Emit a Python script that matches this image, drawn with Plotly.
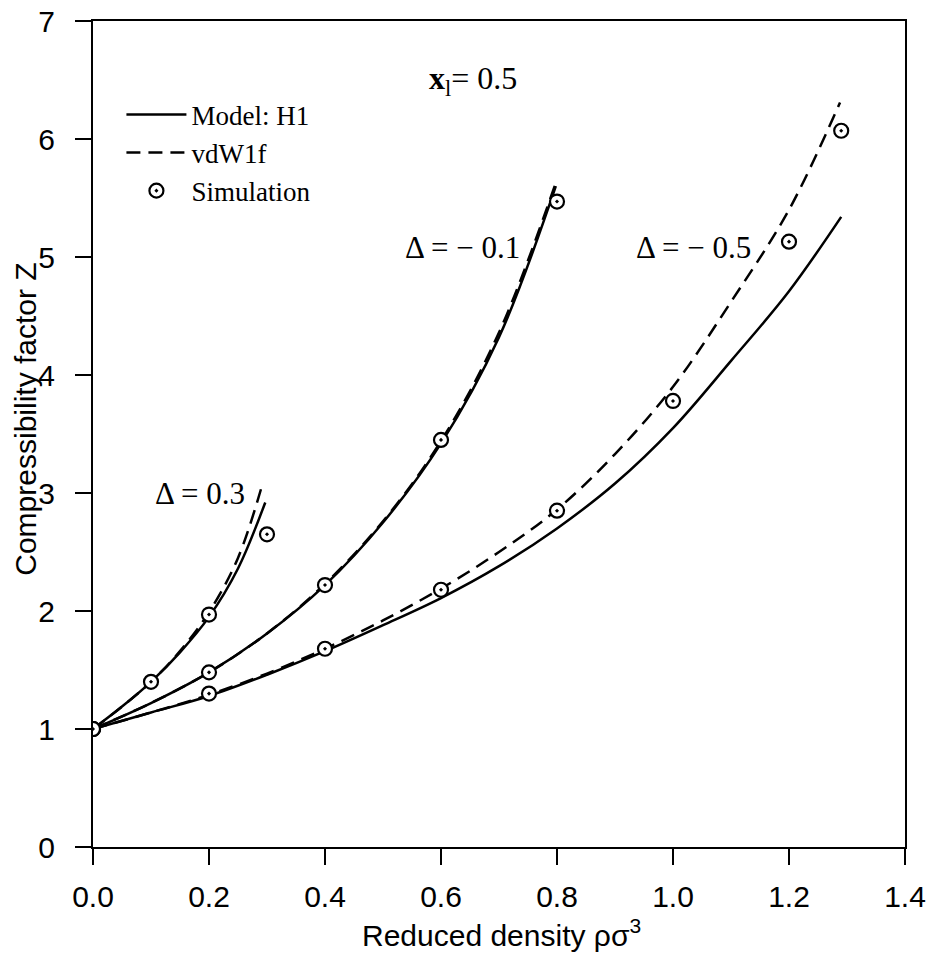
import plotly.graph_objects as go

# Simulation data, x1 = 0.5
sim_rho_p03 = [0.0, 0.1, 0.2, 0.3]
sim_z_p03 = [1.0, 1.40, 1.97, 2.65]
sim_rho_m01 = [0.0, 0.2, 0.4, 0.6, 0.8]
sim_z_m01 = [1.0, 1.48, 2.22, 3.45, 5.47]
sim_rho_m05 = [0.0, 0.2, 0.4, 0.6, 0.8, 1.0, 1.2, 1.29]
sim_z_m05 = [1.0, 1.30, 1.68, 2.18, 2.85, 3.78, 5.13, 6.07]

# Model H1 (solid) and vdW1f (dashed) curves
h1_rho_p03 = [0.0, 0.05, 0.1, 0.15, 0.2, 0.25, 0.297]
h1_z_p03 = [1.0, 1.19, 1.40, 1.65, 1.95, 2.36, 2.92]
vdw_rho_p03 = [0.0, 0.05, 0.1, 0.15, 0.2, 0.25, 0.293]
vdw_z_p03 = [1.0, 1.19, 1.40, 1.66, 1.99, 2.45, 3.09]

h1_rho_m01 = [0.0, 0.1, 0.2, 0.3, 0.4, 0.5, 0.6, 0.7, 0.798]
h1_z_m01 = [1.0, 1.22, 1.48, 1.81, 2.22, 2.75, 3.42, 4.32, 5.60]
vdw_rho_m01 = [0.0, 0.1, 0.2, 0.3, 0.4, 0.5, 0.6, 0.7, 0.798]
vdw_z_m01 = [1.0, 1.22, 1.48, 1.81, 2.23, 2.76, 3.44, 4.36, 5.63]

h1_rho_m05 = [0.0, 0.1, 0.2, 0.3, 0.4, 0.5, 0.6, 0.7, 0.8, 0.9, 1.0, 1.1, 1.2, 1.29]
h1_z_m05 = [1.0, 1.14, 1.28, 1.46, 1.66, 1.88, 2.11, 2.38, 2.70, 3.08, 3.55, 4.12, 4.71, 5.34]
vdw_rho_m05 = [0.0, 0.1, 0.2, 0.3, 0.4, 0.5, 0.6, 0.7, 0.8, 0.9, 1.0, 1.1, 1.2, 1.288]
vdw_z_m05 = [1.0, 1.14, 1.29, 1.47, 1.68, 1.92, 2.19, 2.50, 2.86, 3.33, 3.90, 4.62, 5.40, 6.31]

x_ticks = [0.0, 0.2, 0.4, 0.6, 0.8, 1.0, 1.2, 1.4]
x_tick_text = ["0.0", "0.2", "0.4", "0.6", "0.8", "1.0", "1.2", "1.4"]
y_ticks = [0, 1, 2, 3, 4, 5, 6, 7]

SERIF = "Liberation Serif, Times New Roman, serif"
SANS = "Liberation Sans, Arial, sans-serif"
LW = 2.5
DASH = "14px,8px"

fig = go.Figure()

curves = [
    (h1_rho_p03, h1_z_p03, vdw_rho_p03, vdw_z_p03),
    (h1_rho_m01, h1_z_m01, vdw_rho_m01, vdw_z_m01),
    (h1_rho_m05, h1_z_m05, vdw_rho_m05, vdw_z_m05),
]
for i, (hx, hy, vx, vy) in enumerate(curves):
    fig.add_trace(go.Scatter(
        x=hx, y=hy, mode="lines", name="Model: H1",
        line=dict(color="black", width=LW, shape="spline"),
        legendgroup="h1", showlegend=(i == 0), legendrank=1))
    fig.add_trace(go.Scatter(
        x=vx, y=vy, mode="lines", name="vdW1f",
        line=dict(color="black", width=LW, dash=DASH, shape="spline"),
        legendgroup="vdw", showlegend=(i == 0), legendrank=2))

sims = [(sim_rho_p03, sim_z_p03), (sim_rho_m01, sim_z_m01), (sim_rho_m05, sim_z_m05)]
for i, (sx, sy) in enumerate(sims):
    fig.add_trace(go.Scatter(
        x=sx, y=sy, mode="markers", name="Simulation",
        marker=dict(symbol="circle-dot", size=14, color="white",
                    line=dict(color="black", width=2.2)),
        legendgroup="sim", showlegend=(i == 0), legendrank=3))

annotations = [
    dict(x=0.655, y=6.5, text="<b>x</b><sub>l</sub>= 0.5", font=dict(family=SERIF, size=32, color="black")),
    dict(x=0.185, y=3.0, text="\u0394 = 0.3", font=dict(family=SERIF, size=31, color="black")),
    dict(x=0.637, y=5.08, text="\u0394 = \u2212 0.1", font=dict(family=SERIF, size=31, color="black")),
    dict(x=1.035, y=5.08, text="\u0394 = \u2212 0.5", font=dict(family=SERIF, size=31, color="black")),
]
for a in annotations:
    fig.add_annotation(xref="x", yref="y", showarrow=False, **a)

# axis titles
fig.add_annotation(xref="paper", yref="paper", x=0.503, y=-0.104, showarrow=False,
                   text="Reduced density \u03c1\u03c3<sup>3</sup>",
                   font=dict(family=SANS, size=30, color="black"), yanchor="middle")
fig.add_annotation(xref="paper", yref="paper", x=-0.083, y=0.518, showarrow=False,
                   text="Compressibility factor Z", textangle=-90,
                   font=dict(family=SANS, size=30, color="black"),
                   xanchor="center", yanchor="middle")

axis_common = dict(
    showgrid=False, zeroline=False, showline=True, linecolor="black", linewidth=2.2,
    mirror=True, ticks="outside", ticklen=16, tickwidth=2, tickcolor="black",
    tickfont=dict(family=SANS, size=30, color="black"),
)
fig.update_xaxes(range=[0, 1.4], tickvals=x_ticks, ticktext=x_tick_text,
                 ticklabelstandoff=6, **axis_common)
fig.update_yaxes(range=[0, 7], tickvals=y_ticks, ticklabelstandoff=14, **axis_common)

fig.update_layout(
    width=933, height=978,
    margin=dict(l=93, r=28, t=21, b=131, autoexpand=False),
    plot_bgcolor="white", paper_bgcolor="white",
    showlegend=True,
    legend=dict(x=0.035, y=0.916, xanchor="left", yanchor="top",
                bgcolor="rgba(0,0,0,0)", font=dict(family=SERIF, size=27, color="black"),
                tracegroupgap=0, itemwidth=60),
)

fig.write_html("out.html")
